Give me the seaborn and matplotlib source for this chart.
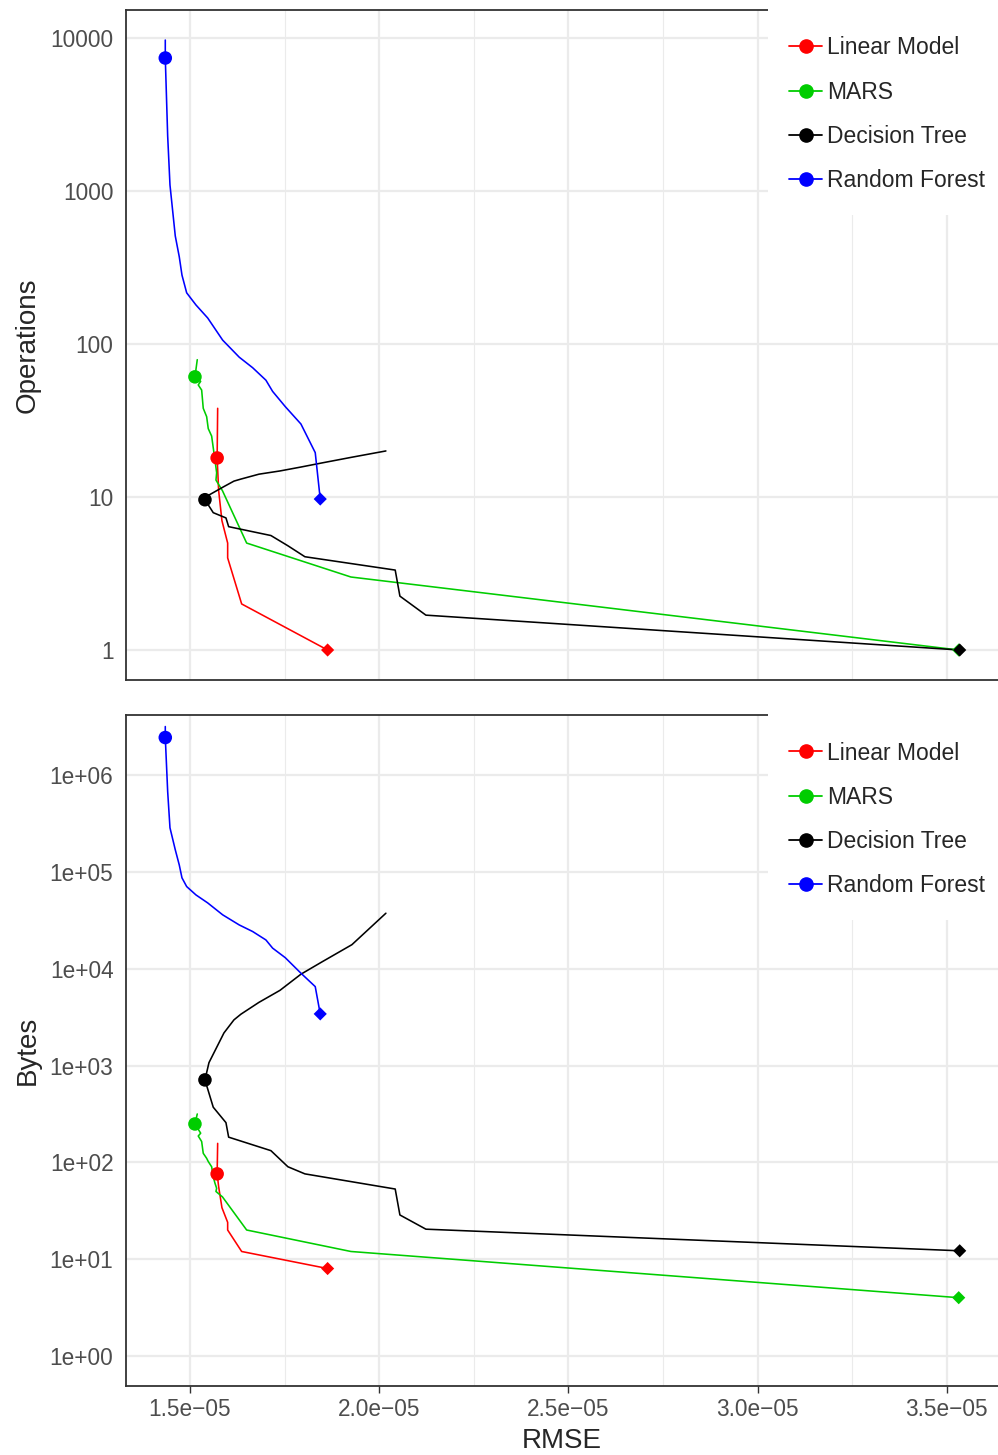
import pandas as pd
import seaborn as sns
import matplotlib.pyplot as plt
from matplotlib.lines import Line2D
from matplotlib.patches import Rectangle
from matplotlib.ticker import FixedLocator, NullLocator

sns.set_style('whitegrid')
plt.rcParams['font.family'] = ['Liberation Sans', 'DejaVu Sans']

# ----------------------------------------------------------------------
# data (rmse in units of 1e-05)
# ----------------------------------------------------------------------
models = ['Linear Model', 'MARS', 'Decision Tree', 'Random Forest']
colors = ['#FF0000', '#00CD00', '#000000', '#0000FF']

lm_rmse = [1.5732, 1.5718, 1.5758, 1.5845, 1.5996, 1.5996, 1.6366, 1.8637]
lm_ops = [38, 18, 11, 7, 5, 4, 2, 1]
lm_bytes = [157, 76, 56, 34, 24, 20, 12, 8]

mars_rmse = [1.5193, 1.5132, 1.5283, 1.5219, 1.5309, 1.5351, 1.5441, 1.5483, 1.5573,
             1.5615, 1.5660, 1.5705, 1.5687, 1.5858, 1.6498, 1.9253, 3.5312]
mars_ops = [79, 61, 57, 54, 50, 38, 33.5, 28, 25, 21, 17.5, 14.4, 12.9, 11, 5, 3, 1]
mars_bytes = [316, 249, 200, 187, 164, 124, 110, 102, 90, 71, 61, 54, 50, 44, 20, 12, 4]

dt_rmse = [2.0177, 1.9279, 1.8487, 1.7932, 1.7377, 1.6823, 1.6347, 1.6162, 1.5898, 1.5502,
           1.5396, 1.5615, 1.5951, 1.6022, 1.7139, 1.7588, 1.8037, 2.0423, 2.0547, 2.1234, 3.5338]
dt_ops = [20, 18.2, 16.7, 15.7, 14.8, 14.1, 13.1, 12.7, 11.7, 10.3,
          9.6, 7.9, 7.3, 6.4, 5.6, 4.8, 4.07, 3.33, 2.25, 1.69, 1.0]
dt_bytes = [37400, 17700, 11750, 8770, 5970, 4490, 3390, 2960, 2170, 1070,
            710, 371, 257, 182, 132, 90, 76, 53, 28.6, 20.4, 12.2]

rf_rmse = [1.4348, 1.4348, 1.4411, 1.4472, 1.4612, 1.4717, 1.4789, 1.4913, 1.5158, 1.5468,
           1.5864, 1.6302, 1.6656, 1.7007, 1.7184, 1.7517, 1.7932, 1.8310, 1.8442]
rf_ops = [9700, 7400, 2290, 1095, 508, 372, 282, 216, 180, 148,
          106, 82, 70, 58, 49, 39, 30, 19.5, 9.7]
rf_bytes = [3.17e6, 2.44e6, 6.76e5, 2.85e5, 1.69e5, 1.18e5, 8.67e4, 7.05e4, 5.78e4, 4.78e4,
            3.6e4, 2.83e4, 2.42e4, 1.98e4, 1.63e4, 1.30e4, 8980, 6530, 3410]

# index of the highlighted (circle) configuration per model
chosen = [1, 1, 10, 1]

ops_ticks = [1, 10, 100, 1000, 10000]
ops_labels = ['1', '10', '100', '1000', '10000']
bytes_ticks = [1, 10, 100, 1e3, 1e4, 1e5, 1e6]
bytes_labels = ['1e+00', '1e+01', '1e+02', '1e+03', '1e+04', '1e+05', '1e+06']
x_ticks = [1.5e-05, 2.0e-05, 2.5e-05, 3.0e-05, 3.5e-05]
x_labels = ['1.5e\u221205', '2.0e\u221205', '2.5e\u221205', '3.0e\u221205', '3.5e\u221205']

# ----------------------------------------------------------------------
# tidy frame
# ----------------------------------------------------------------------
parts = []
for name, r, o, b, c in zip(models,
                            [lm_rmse, mars_rmse, dt_rmse, rf_rmse],
                            [lm_ops, mars_ops, dt_ops, rf_ops],
                            [lm_bytes, mars_bytes, dt_bytes, rf_bytes],
                            chosen):
    d = pd.DataFrame({'rmse': [v * 1e-05 for v in r], 'Operations': o, 'Bytes': b})
    d['model'] = name
    d['step'] = range(len(d))
    d['chosen'] = d['step'] == c
    d['last'] = d['step'] == len(d) - 1
    parts.append(d)
df = pd.concat(parts, ignore_index=True)
pal = dict(zip(models, colors))

# ----------------------------------------------------------------------
# figure
# ----------------------------------------------------------------------
W, H = 998, 1455
fig = plt.figure(figsize=(W / 100, H / 100), dpi=100)
ax1 = fig.add_axes([126 / W, (H - 680) / H, (W - 126) / W, 670 / H])
ax2 = fig.add_axes([126 / W, (H - 1386) / H, (W - 126) / W, 671 / H])

limits = {'Operations': (10 ** -0.196, 10 ** 4.183), 'Bytes': (10 ** -0.31, 10 ** 6.62)}

for ax, col, ticks, labels, ph in [(ax1, 'Operations', ops_ticks, ops_labels, 670),
                                   (ax2, 'Bytes', bytes_ticks, bytes_labels, 671)]:
    sns.lineplot(data=df, x='rmse', y=col, hue='model', palette=pal, sort=False,
                 estimator=None, lw=1.15, legend=False, ax=ax, zorder=3)
    sns.scatterplot(data=df[df['chosen']], x='rmse', y=col, hue='model', palette=pal,
                    marker='o', s=95, linewidth=0, legend=False, ax=ax, zorder=4)
    sns.scatterplot(data=df[df['last']], x='rmse', y=col, hue='model', palette=pal,
                    marker='D', s=45, linewidth=0, legend=False, ax=ax, zorder=4)
    ax.set_yscale('log')
    ax.set_ylim(*limits[col])
    ax.set_xlim(1.331e-05, 3.635e-05)
    ax.yaxis.set_major_locator(FixedLocator(ticks))
    ax.set_yticklabels(labels)
    ax.yaxis.set_minor_locator(NullLocator())
    ax.xaxis.set_major_locator(FixedLocator(x_ticks))
    ax.xaxis.set_minor_locator(FixedLocator([1.75e-05, 2.25e-05, 2.75e-05, 3.25e-05]))
    ax.grid(which='major', color='#EBEBEB', lw=1.6)
    ax.grid(which='minor', axis='x', color='#EBEBEB', lw=0.8)
    ax.set_axisbelow(True)
    ax.set_xlabel('')
    ax.set_ylabel('')
    for s in ['left', 'bottom', 'top']:
        ax.spines[s].set_color('#333333')
        ax.spines[s].set_linewidth(1.3)
    ax.spines['right'].set_visible(False)
    ax.tick_params(which='major', length=5, width=1, color='#333333',
                   labelcolor='#4D4D4D', labelsize=16.3, pad=4)
    ax.tick_params(which='minor', length=0)

    # white legend background, drawn over grid and top border
    ax.add_patch(Rectangle((642 / 872, 1 - 205 / ph), 0.3, 205 / ph + 0.01,
                           transform=ax.transAxes, facecolor='white', edgecolor='none',
                           zorder=5, clip_on=False))
    handles = [Line2D([0], [0], color=c, lw=1.3, marker='o', markersize=9.5) for c in colors]
    leg = ax.legend(handles, models, loc='upper left',
                    bbox_to_anchor=(663 / 872, 1 - 26.5 / ph),
                    frameon=False, fontsize=16.5, handlelength=1.45, handletextpad=0.22,
                    labelspacing=0.93, borderpad=0, borderaxespad=0)
    leg.set_zorder(10)

ax1.set_xticklabels([])
ax1.tick_params(axis='x', bottom=False, labelbottom=False)
ax2.set_xticklabels(x_labels)
ax2.tick_params(axis='x', bottom=True)

fig.text(28 / W, (H - 345) / H, 'Operations', rotation=90, ha='center', va='center', fontsize=20)
fig.text(28 / W, (H - 1050) / H, 'Bytes', rotation=90, ha='center', va='center', fontsize=20)
fig.text(562 / W, (H - 1448) / H, 'RMSE', ha='center', va='baseline', fontsize=20)

fig.savefig('out.png', dpi=100)
